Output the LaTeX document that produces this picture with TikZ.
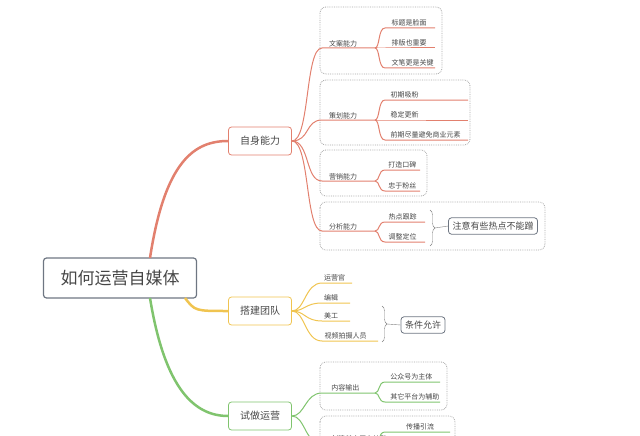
\documentclass[tikz,border=0pt]{standalone}
\usepackage{fontspec}
\setmainfont{Noto Sans CJK SC}
\usetikzlibrary{decorations.pathreplacing}
\definecolor{redl}{RGB}{226,128,110}
\definecolor{yell}{RGB}{240,196,80}
\definecolor{grnl}{RGB}{128,196,110}
\definecolor{grayb}{RGB}{110,118,130}
\definecolor{txt}{RGB}{70,70,70}
\begin{document}
\begin{tikzpicture}[x=1pt, y=-1pt,
  root/.style = {draw=grayb, very thick, rounded corners=3pt, minimum width=153pt, minimum height=40pt, font=\fontsize{17}{17}\selectfont, text=txt},
  topic/.style = {draw=#1, thick, rounded corners=3pt, minimum width=63pt, minimum height=28pt, font=\fontsize{10}{10}\selectfont, text=txt},
  leaf/.style = {anchor=south west, inner sep=1pt, font=\fontsize{7}{7}\selectfont, text=txt},
  group/.style = {draw=gray!70, densely dotted, thick, rounded corners=6pt},
  note/.style = {draw=grayb, thick, rounded corners=3pt, font=\fontsize{9}{9}\selectfont, text=txt, inner sep=4pt},
  brace/.style = {draw=gray, decorate, decoration={brace, amplitude=5pt}},
  link/.style = {draw=#1, line width=1pt}
]
  \useasboundingbox (0,0) rectangle (640,436);

  % root
  \node[root] (root) at (120,278) {如何运营自媒体};

  % main topics
  \node[topic=redl] (self) at (260,141) {自身能力};
  \node[topic=yell] (team) at (260,311) {搭建团队};
  \node[topic=grnl] (trial) at (260,416) {试做运营};

  \draw[redl, line width=2.5pt] (150,258) .. controls (165,160) and (195,141) .. (self.west);
  \draw[yell, line width=2.5pt] (185,298) .. controls (195,311) .. (team.west);
  \draw[grnl, line width=2.5pt] (150,298) .. controls (165,390) and (195,416) .. (trial.west);

  % dotted groups
  \draw[group] (320,7) rectangle (442,74);
  \draw[group] (320,80) rectangle (470,145);
  \draw[group] (320,150) rectangle (427,196);
  \draw[group] (320,202) rectangle (545,250);
  \draw[group] (320,362) rectangle (447,410);
  \draw[group] (320,416) rectangle (455,446);

  % self branches
  \foreach \y/\name/\lbl in {48/copy/文案能力, 120/plan/策划能力, 181/sell/营销能力, 231/anal/分析能力} {
    \node[leaf] (\name) at (328,\y) {\lbl};
    \draw[link=redl] (self.east) .. controls (310,141) and (305,\y) .. (322,\y) -- (375,\y);
  }
  \foreach \y/\lbl in {28/标题是脸面, 48/排版也重要, 68/文笔更是关键}
    \draw[link=redl] (375,48) .. controls (380,48) and (378,\y) .. (385,\y) -- (435,\y) node[leaf, pos=0.1] {\lbl};
  \foreach \y/\lbl in {100/初期吸粉, 120/稳定更新, 140/前期尽量避免商业元素}
    \draw[link=redl] (375,120) .. controls (380,120) and (378,\y) .. (385,\y) -- (468,\y) node[leaf, pos=0.05] {\lbl};
  \foreach \y/\lbl in {170/打造口碑, 191/忠于粉丝}
    \draw[link=redl] (375,181) .. controls (380,181) and (378,\y) .. (385,\y) -- (420,\y) node[leaf, pos=0.05] {\lbl};
  \foreach \y/\lbl in {222/热点跟踪, 242/调整定位}
    \draw[link=redl] (375,231) .. controls (380,231) and (378,\y) .. (385,\y) -- (425,\y) node[leaf, pos=0.05] {\lbl};
  \draw[brace] (430,210) -- (430,246);
  \node[note] (hot) at (493,226) {注意有些热点不能蹭};
  \draw[gray] (435,228) -- (hot.west);

  % team branches
  \foreach \y/\x/\lbl in {283/352/运营官, 303/350/编辑, 321/350/美工, 341/378/视频拍摄人员}
    \draw[link=yell] (team.east) .. controls (305,311) and (305,\y) .. (322,\y) -- (\x,\y) node[leaf, pos=0.02] {\lbl};
  \draw[brace] (382,306) -- (382,342);
  \node[note] (cond) at (423,325) {条件允许};
  \draw[gray] (387,324) -- (cond.west);

  % trial branches
  \draw[link=grnl] (trial.east) .. controls (305,416) and (305,393) .. (322,393) -- (375,393) node[leaf, pos=0.15] {内容输出};
  \foreach \y/\lbl in {382/公众号为主体, 402/其它平台为辅助}
    \draw[link=grnl] (375,393) .. controls (380,393) and (378,\y) .. (385,\y) -- (440,\y) node[leaf, pos=0.07] {\lbl};
  \draw[link=grnl] (trial.east) .. controls (305,416) and (305,444) .. (322,444) -- (375,444) node[leaf, pos=0.15] {创建其它平台协助};
  \draw[link=grnl] (375,444) .. controls (380,444) and (378,432) .. (385,432) -- (450,432) node[leaf, pos=0.3] {传播引流};
\end{tikzpicture}
\end{document}
